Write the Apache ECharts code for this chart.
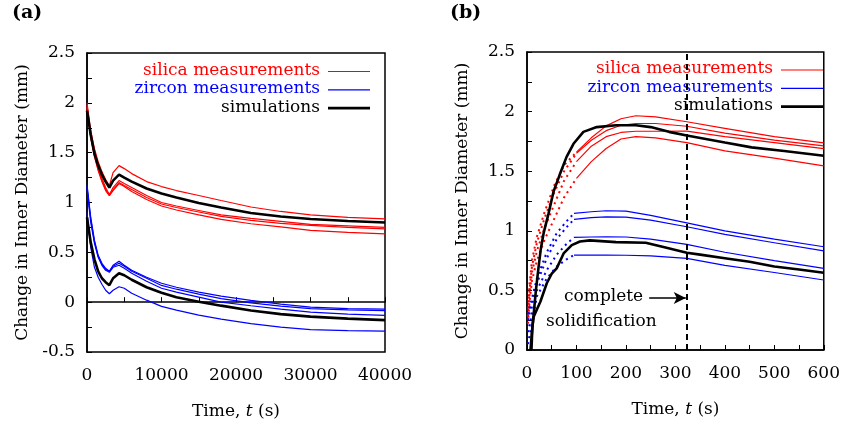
<!DOCTYPE html>
<html>
<head>
<meta charset="utf-8">
<script src="https://cdn.jsdelivr.net/npm/echarts@6/dist/echarts.min.js"></script>
<style>
  html, body { margin: 0; padding: 0; background: #fff; }
  #main { width: 843px; height: 426px; }
</style>
</head>
<body>
<div id="main"></div>
<script>
// ---- panel (a): long time, 0 .. 40000 s ----
var tA = [0, 500, 1000, 1500, 2000, 2500, 3000, 3500, 4300, 5000, 6000, 8000, 10000, 12000, 15000, 18000, 22000, 26000, 30000, 35000, 40000];
var silicaA1 = [2.0, 1.72, 1.54, 1.41, 1.31, 1.23, 1.17, 1.30, 1.37, 1.34, 1.29, 1.21, 1.16, 1.12, 1.07, 1.02, 0.955, 0.91, 0.875, 0.85, 0.835];
var silicaA2 = [1.98, 1.68, 1.49, 1.35, 1.24, 1.15, 1.08, 1.15, 1.22, 1.19, 1.15, 1.07, 1.0, 0.965, 0.92, 0.875, 0.84, 0.81, 0.78, 0.765, 0.75];
var silicaA3 = [1.96, 1.66, 1.47, 1.33, 1.22, 1.13, 1.07, 1.13, 1.20, 1.17, 1.13, 1.05, 0.985, 0.95, 0.905, 0.86, 0.82, 0.79, 0.77, 0.75, 0.735];
var silicaA4 = [1.95, 1.65, 1.46, 1.32, 1.21, 1.12, 1.07, 1.12, 1.19, 1.16, 1.11, 1.03, 0.965, 0.925, 0.875, 0.83, 0.787, 0.755, 0.72, 0.70, 0.685];
var zirconA1 = [1.18, 0.85, 0.62, 0.47, 0.39, 0.34, 0.31, 0.37, 0.41, 0.37, 0.32, 0.25, 0.19, 0.15, 0.10, 0.06, 0.018, -0.02, -0.05, -0.065, -0.07];
var zirconA2 = [1.16, 0.83, 0.61, 0.46, 0.38, 0.33, 0.31, 0.36, 0.39, 0.36, 0.31, 0.24, 0.168, 0.13, 0.08, 0.035, -0.008, -0.04, -0.065, -0.078, -0.085];
var zirconA3 = [1.14, 0.80, 0.59, 0.45, 0.37, 0.32, 0.30, 0.35, 0.37, 0.34, 0.29, 0.21, 0.14, 0.10, 0.05, 0.0, -0.036, -0.07, -0.10, -0.12, -0.133];
var zirconA4 = [0.90, 0.55, 0.35, 0.25, 0.18, 0.12, 0.085, 0.12, 0.155, 0.14, 0.09, 0.02, -0.042, -0.08, -0.13, -0.17, -0.216, -0.25, -0.275, -0.285, -0.29];
var simSilicaA = [1.92, 1.68, 1.49, 1.37, 1.28, 1.21, 1.15, 1.22, 1.28, 1.25, 1.21, 1.14, 1.09, 1.05, 0.995, 0.95, 0.895, 0.86, 0.835, 0.815, 0.80];
var simZirconA = [0.85, 0.60, 0.43, 0.31, 0.24, 0.20, 0.17, 0.24, 0.29, 0.27, 0.225, 0.15, 0.095, 0.05, 0.005, -0.035, -0.083, -0.12, -0.145, -0.165, -0.18];

// ---- panel (b): early time, 0 .. 600 s ----
var tRedDotB = [2, 5, 10, 20, 35, 55, 75, 100];
var redDotB1 = [0.30, 0.55, 0.75, 0.95, 1.15, 1.38, 1.55, 1.66];
var redDotB2 = [0.28, 0.50, 0.70, 0.90, 1.10, 1.32, 1.50, 1.65];
var redDotB3 = [0.25, 0.45, 0.65, 0.83, 1.02, 1.22, 1.42, 1.58];
var redDotB4 = [0.22, 0.40, 0.58, 0.75, 0.92, 1.10, 1.28, 1.44];
var tRedB = [100, 130, 160, 190, 220, 260, 323, 400, 500, 600];
var silicaB1 = [1.66, 1.78, 1.88, 1.94, 1.965, 1.955, 1.915, 1.86, 1.79, 1.738];
var silicaB2 = [1.65, 1.76, 1.84, 1.885, 1.90, 1.90, 1.877, 1.82, 1.76, 1.713];
var silicaB3 = [1.58, 1.71, 1.79, 1.825, 1.835, 1.835, 1.836, 1.79, 1.74, 1.69];
var silicaB4 = [1.44, 1.58, 1.69, 1.77, 1.79, 1.78, 1.74, 1.67, 1.61, 1.545];
var tBlueDotB = [2, 20, 40, 60, 80, 95];
var blueDotB1 = [0.30, 0.60, 0.82, 0.98, 1.08, 1.146];
var blueDotB2 = [0.25, 0.56, 0.77, 0.93, 1.03, 1.096];
var blueDotB3 = [0.15, 0.50, 0.67, 0.80, 0.89, 0.945];
var blueDotB4 = [0.05, 0.45, 0.60, 0.70, 0.76, 0.796];
var tBlueB = [95, 130, 160, 200, 250, 323, 400, 500, 600];
var zirconB1 = [1.146, 1.16, 1.168, 1.165, 1.13, 1.067, 1.0, 0.93, 0.866];
var zirconB2 = [1.096, 1.11, 1.117, 1.115, 1.09, 1.034, 0.97, 0.90, 0.832];
var zirconB3 = [0.945, 0.948, 0.95, 0.948, 0.93, 0.886, 0.82, 0.75, 0.685];
var zirconB4 = [0.796, 0.796, 0.796, 0.795, 0.79, 0.769, 0.71, 0.65, 0.587];
var tSimSilicaB = [7, 10, 13.5, 18, 23.5, 28, 33.6, 43.6, 53.7, 67, 80, 94, 114, 141, 180, 220, 250, 287, 323, 400, 454, 520, 600];
var simSilicaB = [0, 0.15, 0.3, 0.5, 0.7, 0.85, 0.98, 1.146, 1.33, 1.48, 1.62, 1.73, 1.83, 1.87, 1.885, 1.886, 1.87, 1.83, 1.80, 1.74, 1.70, 1.67, 1.63];
var tSimZirconB = [9, 11, 13.5, 27, 40, 50, 60, 74, 90.5, 107, 127, 180, 240, 280, 323, 350, 400, 450, 500, 550, 600];
var simZirconB = [0, 0.2, 0.28, 0.405, 0.56, 0.64, 0.685, 0.81, 0.88, 0.91, 0.92, 0.905, 0.9, 0.86, 0.816, 0.80, 0.77, 0.74, 0.70, 0.675, 0.648];
var solidTime = 323;

var RED = '#ff0000', BLUE = '#0000ff', BLACK = '#000000';
var FONT = 'DejaVu Serif';
var names = ['silica measurements', 'zircon measurements', 'simulations'];
var nameColors = [RED, BLUE, BLACK];
var nameWidths = [1.2, 1.2, 2.6];

function pair(ts, vs) {
    return ts.map(function (t, i) { return [t, vs[i]]; });
}

function line(name, idx, ts, vs, color, width, dash) {
    return {
        name: name,
        type: 'line',
        xAxisIndex: idx,
        yAxisIndex: idx,
        data: pair(ts, vs),
        symbol: 'none',
        silent: true,
        lineStyle: {color: color, width: width, type: dash || 'solid'},
        itemStyle: {color: color}
    };
}

function xAxis(idx, max, interval, major) {
    return {
        type: 'value', gridIndex: idx, min: 0, max: max, interval: interval,
        name: 'Time, {i|t} (s)', nameLocation: 'middle', nameGap: 51,
        nameTextStyle: {fontFamily: FONT, fontSize: 17, color: BLACK, rich: {i: {fontFamily: FONT, fontSize: 17, fontStyle: 'italic'}}},
        axisLine: {lineStyle: {color: BLACK, width: 1.5}},
        axisTick: {inside: true, length: 5, lineStyle: {color: BLACK}},
        axisLabel: {
            margin: 15, fontFamily: FONT, fontSize: 17, color: BLACK,
            formatter: function (v) { return v % major === 0 ? String(v) : ''; }
        },
        splitLine: {show: false}
    };
}

function yAxis(idx, min, max) {
    return {
        type: 'value', gridIndex: idx, min: min, max: max, interval: 0.25,
        name: 'Change in Inner Diameter (mm)', nameLocation: 'middle', nameGap: 56,
        nameTextStyle: {fontFamily: FONT, fontSize: 17, color: BLACK},
        axisLine: {lineStyle: {color: BLACK, width: 1.5}},
        axisTick: {inside: true, length: 5, lineStyle: {color: BLACK}},
        axisLabel: {
            margin: 12, fontFamily: FONT, fontSize: 17, color: BLACK,
            formatter: function (v) { return Math.round(v * 4) % 2 === 0 ? String(v) : ''; }
        },
        splitLine: {show: false}
    };
}

// hand-made legend: right-aligned coloured text with a line sample after it
function legendBox(textRight, top) {
    var out = [];
    names.forEach(function (n, i) {
        var y = top + i * 18.3;
        out.push({type: 'text', x: textRight, y: y, silent: true,
            style: {text: n, align: 'right', verticalAlign: 'middle', font: '17px "DejaVu Serif"', fill: nameColors[i]}});
        out.push({type: 'line', silent: true,
            shape: {x1: textRight + 8, y1: y + 1, x2: textRight + 50, y2: y + 1},
            style: {stroke: nameColors[i], lineWidth: nameWidths[i]}});
    });
    return out;
}

var series = [
    line(names[0], 0, tA, silicaA1, RED, 1.2),
    line(names[0], 0, tA, silicaA2, RED, 1.2),
    line(names[0], 0, tA, silicaA3, RED, 1.2),
    line(names[0], 0, tA, silicaA4, RED, 1.2),
    line(names[1], 0, tA, zirconA1, BLUE, 1.2),
    line(names[1], 0, tA, zirconA2, BLUE, 1.2),
    line(names[1], 0, tA, zirconA3, BLUE, 1.2),
    line(names[1], 0, tA, zirconA4, BLUE, 1.2),
    line(names[2], 0, tA, simSilicaA, BLACK, 2.6),
    line(names[2], 0, tA, simZirconA, BLACK, 2.6),

    line(names[0], 1, tRedB, silicaB1, RED, 1.2),
    line(names[0], 1, tRedB, silicaB2, RED, 1.2),
    line(names[0], 1, tRedB, silicaB3, RED, 1.2),
    line(names[0], 1, tRedB, silicaB4, RED, 1.2),
    line('silica early', 1, tRedDotB, redDotB1, RED, 2, [2, 4]),
    line('silica early', 1, tRedDotB, redDotB2, RED, 2, [2, 4]),
    line('silica early', 1, tRedDotB, redDotB3, RED, 2, [2, 4]),
    line('silica early', 1, tRedDotB, redDotB4, RED, 2, [2, 4]),
    line(names[1], 1, tBlueB, zirconB1, BLUE, 1.2),
    line(names[1], 1, tBlueB, zirconB2, BLUE, 1.2),
    line(names[1], 1, tBlueB, zirconB3, BLUE, 1.2),
    line(names[1], 1, tBlueB, zirconB4, BLUE, 1.2),
    line('zircon early', 1, tBlueDotB, blueDotB1, BLUE, 2, [2, 4]),
    line('zircon early', 1, tBlueDotB, blueDotB2, BLUE, 2, [2, 4]),
    line('zircon early', 1, tBlueDotB, blueDotB3, BLUE, 2, [2, 4]),
    line('zircon early', 1, tBlueDotB, blueDotB4, BLUE, 2, [2, 4]),
    line(names[2], 1, tSimSilicaB, simSilicaB, BLACK, 2.6),
    line(names[2], 1, tSimZirconB, simZirconB, BLACK, 2.6)
];

// dashed "complete solidification" line and its arrow
series[series.length - 1].markLine = {
    silent: true,
    animation: false,
    symbol: ['none', 'none'],
    label: {show: false},
    data: [
        {xAxis: solidTime, lineStyle: {color: BLACK, width: 2, type: [6, 4]}},
        [
            {coord: [247, 0.436], symbol: 'none', lineStyle: {color: BLACK, width: 1.5, type: 'solid'}},
            {coord: [solidTime - 2, 0.436], symbol: 'arrow', symbolSize: [9, 12]}
        ]
    ]
};

var graphics = [
    {type: 'text', left: 12, top: 4, style: {text: '(a)', font: 'bold 19px "DejaVu Serif"', fill: BLACK}},
    {type: 'text', left: 450, top: 4, style: {text: '(b)', font: 'bold 19px "DejaVu Serif"', fill: BLACK}},
    {type: 'text', left: 564, top: 288, style: {text: 'complete', font: '17px "DejaVu Serif"', fill: BLACK}},
    {type: 'text', left: 546, top: 313, style: {text: 'solidification', font: '17px "DejaVu Serif"', fill: BLACK}}
].concat(legendBox(320, 70.5), legendBox(773, 69));

var chart = echarts.init(document.getElementById('main'), null, {renderer: 'canvas'});
chart.setOption({
    animation: false,
    backgroundColor: '#fff',
    grid: [
        {left: 87, top: 53, width: 298, height: 299, show: true, borderColor: BLACK, borderWidth: 1.5},
        {left: 527, top: 52, width: 298, height: 298, show: true, borderColor: BLACK, borderWidth: 1.5}
    ],
    xAxis: [xAxis(0, 40000, 5000, 10000), xAxis(1, 600, 50, 100)],
    yAxis: [yAxis(0, -0.5, 2.5), yAxis(1, 0, 2.5)],
    graphic: graphics,
    series: series
});
</script>
</body>
</html>
